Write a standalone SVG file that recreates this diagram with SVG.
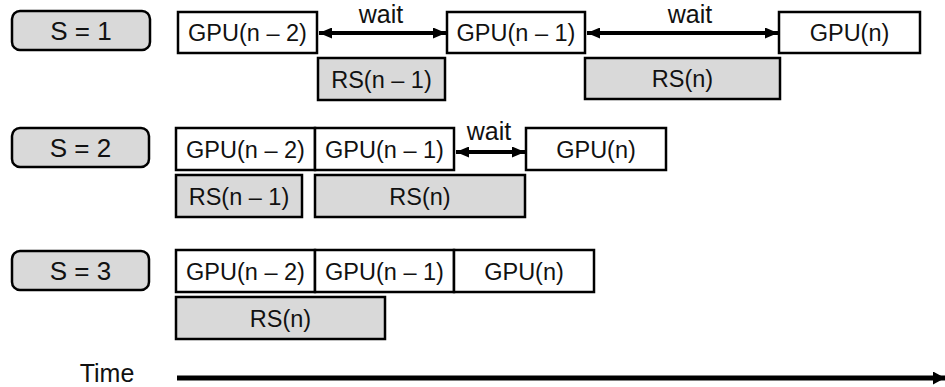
<svg xmlns="http://www.w3.org/2000/svg" width="945" height="387" viewBox="0 0 945 387">
<defs>
<style>
.s{fill:#d9d9d9;stroke:#000;stroke-width:2.5}
.g{fill:#fff;stroke:#000;stroke-width:2.5}
.r{fill:#d9d9d9;stroke:#000;stroke-width:2.5}
text{font-family:"Liberation Sans",Arial,sans-serif;fill:#111;text-anchor:middle}
.t{font-size:23.5px}
.l{font-size:26px}
.w{font-size:25px}
.a{stroke:#000;stroke-width:4;fill:none}
</style>
<marker id="ah" viewBox="0 0 13 11" refX="13" refY="5.5" markerWidth="13" markerHeight="11" orient="auto-start-reverse" markerUnits="userSpaceOnUse">
<path d="M0,0 L13,5.5 L0,11 z" fill="#000"/>
</marker>
<marker id="ah2" viewBox="0 0 12 13" refX="12" refY="6.5" markerWidth="12" markerHeight="13" orient="auto" markerUnits="userSpaceOnUse">
<path d="M0,0 L12,6.5 L0,13 z" fill="#000"/>
</marker>
</defs>

<g id="label-s1"><rect class="s" x="12" y="11" width="138" height="39" rx="8"/><text class="l" x="81" y="40">S = 1</text></g>
<g id="label-s2"><rect class="s" x="12" y="128" width="137" height="39" rx="8"/><text class="l" x="80.5" y="157">S = 2</text></g>
<g id="label-s3"><rect class="s" x="12" y="251" width="137" height="39" rx="8"/><text class="l" x="80.5" y="280">S = 3</text></g>

<g id="r1-gpu-n2"><rect class="g" x="178" y="12" width="139" height="41"/><text class="t" x="247.5" y="41">GPU(n – 2)</text></g>
<g id="r1-gpu-n1"><rect class="g" x="447" y="12" width="138" height="41"/><text class="t" x="516" y="41">GPU(n – 1)</text></g>
<g id="r1-gpu-n"><rect class="g" x="779" y="12" width="141" height="41"/><text class="t" x="849.5" y="41">GPU(n)</text></g>
<g id="r1-rs-n1"><rect class="r" x="318" y="58" width="127" height="42"/><text class="t" x="381.5" y="87.5">RS(n – 1)</text></g>
<g id="r1-rs-n"><rect class="r" x="585" y="58" width="195" height="41"/><text class="t" x="682.5" y="87">RS(n)</text></g>

<g id="r2-gpu-n2"><rect class="g" x="176" y="128" width="139" height="42"/><text class="t" x="245.5" y="157.5">GPU(n – 2)</text></g>
<g id="r2-gpu-n1"><rect class="g" x="315" y="128" width="139" height="42"/><text class="t" x="384.5" y="157.5">GPU(n – 1)</text></g>
<g id="r2-gpu-n"><rect class="g" x="526" y="128" width="140" height="42"/><text class="t" x="596" y="157.5">GPU(n)</text></g>
<g id="r2-rs-n1"><rect class="r" x="176" y="175" width="126" height="42"/><text class="t" x="239" y="204.5">RS(n – 1)</text></g>
<g id="r2-rs-n"><rect class="r" x="315" y="175" width="210" height="42"/><text class="t" x="420" y="204.5">RS(n)</text></g>

<g id="r3-gpu-n2"><rect class="g" x="176" y="250" width="139" height="42"/><text class="t" x="245.5" y="279.5">GPU(n – 2)</text></g>
<g id="r3-gpu-n1"><rect class="g" x="315" y="250" width="139" height="42"/><text class="t" x="384.5" y="279.5">GPU(n – 1)</text></g>
<g id="r3-gpu-n"><rect class="g" x="454" y="250" width="140" height="42"/><text class="t" x="524" y="279.5">GPU(n)</text></g>
<g id="r3-rs-n"><rect class="r" x="176" y="297" width="209" height="42"/><text class="t" x="280.5" y="326.5">RS(n)</text></g>

<g id="connectors">
<line class="a" x1="319" y1="33" x2="446" y2="33" marker-start="url(#ah)" marker-end="url(#ah)"/>
<text class="w" x="381" y="23">wait</text>
<line class="a" x1="587" y1="33" x2="778" y2="33" marker-start="url(#ah)" marker-end="url(#ah)"/>
<text class="w" x="690" y="23">wait</text>
<line class="a" x1="456" y1="152" x2="525" y2="152" marker-start="url(#ah)" marker-end="url(#ah)"/>
<text class="w" x="489" y="140">wait</text>
<line x1="177" y1="378" x2="945" y2="378" stroke="#000" stroke-width="5" marker-end="url(#ah2)"/>
<text class="w" x="107" y="382">Time</text>
</g>
</svg>
